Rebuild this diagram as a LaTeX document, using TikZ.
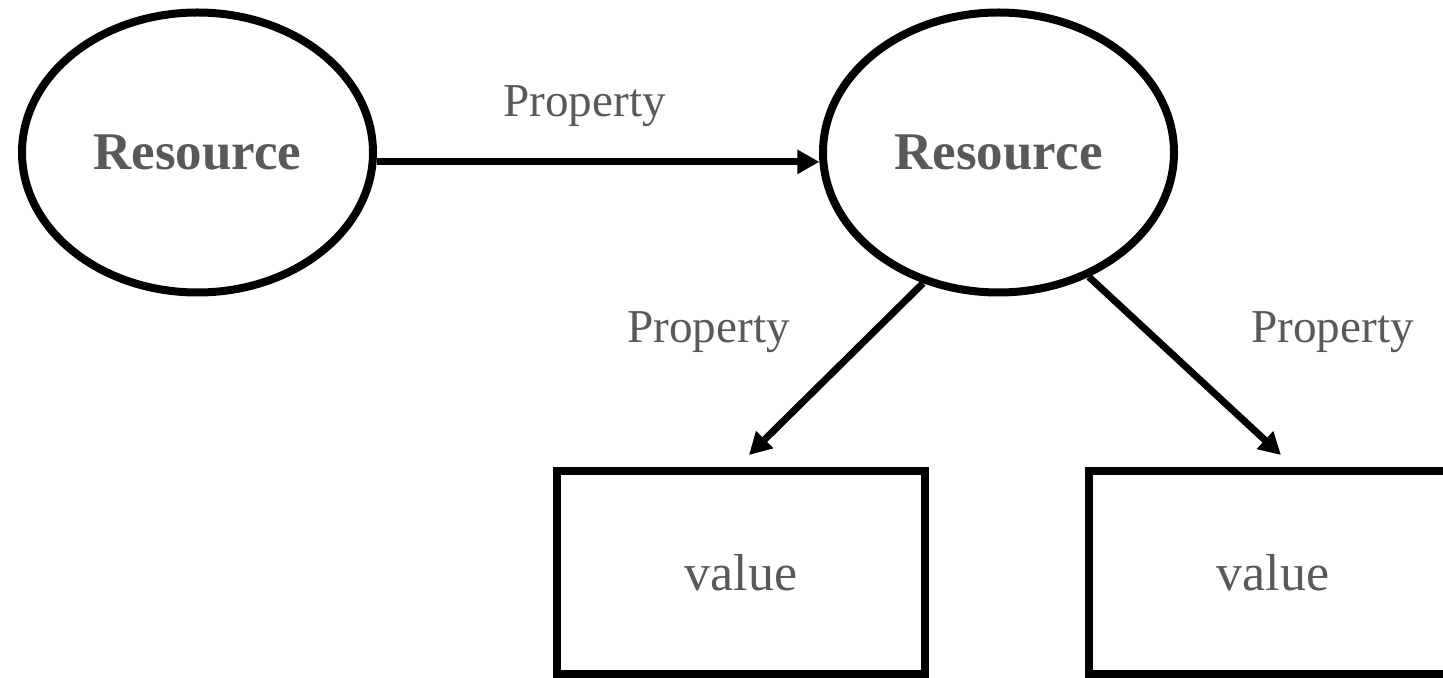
\documentclass[tikz,border=0pt]{standalone}
\usepackage{fontspec}
\setmainfont{Liberation Serif}
\usetikzlibrary{arrows.meta,shapes.geometric}
\definecolor{txtgray}{HTML}{595959}
\tikzset{
  res/.style={ellipse, draw=black, line width=4pt, minimum width=175.5pt, minimum height=140pt, inner sep=0pt,
     text=txtgray, font=\fontsize{26.5}{30}\selectfont\bfseries},
  valbox/.style={rectangle, draw=black, line width=4pt, minimum width=184pt, minimum height=101.5pt, inner sep=0pt,
     text=txtgray, font=\fontsize{26}{30}\selectfont},
  proplabel/.style={anchor=base west, inner sep=0pt, text=txtgray, font=\fontsize{23.6}{28}\selectfont},
  conn/.style={line width=3.5pt, -{Triangle[length=11pt,width=11.5pt]}}
}
\begin{document}
\begin{tikzpicture}[x=0.5pt,y=-0.5pt]
\useasboundingbox (0,0) rectangle (1443,678);
\node[res] (r1) at (197.5,152.5) {\raisebox{-1.5pt}{Resource}};
\node[res] (r2) at (998.5,152.5) {\raisebox{-1.5pt}{Resource}};
\node[valbox] (v1) at (741,572.5) {value};
\node[valbox] (v2) at (1273,572.5) {value};
\coordinate (t1) at (749,455);
\coordinate (t2) at (1281,455);
\node[proplabel] (p1) at (503,117) {Property};
\node[proplabel] (p2) at (627,343) {Property};
\node[proplabel] (p3) at (1251,343) {Property};
\draw[conn] (r1.-3) -- (r2.183);
\draw[conn] (r2.240) -- (t1);
\draw[conn] (r2.-54.5) -- (t2);
\end{tikzpicture}
\end{document}
